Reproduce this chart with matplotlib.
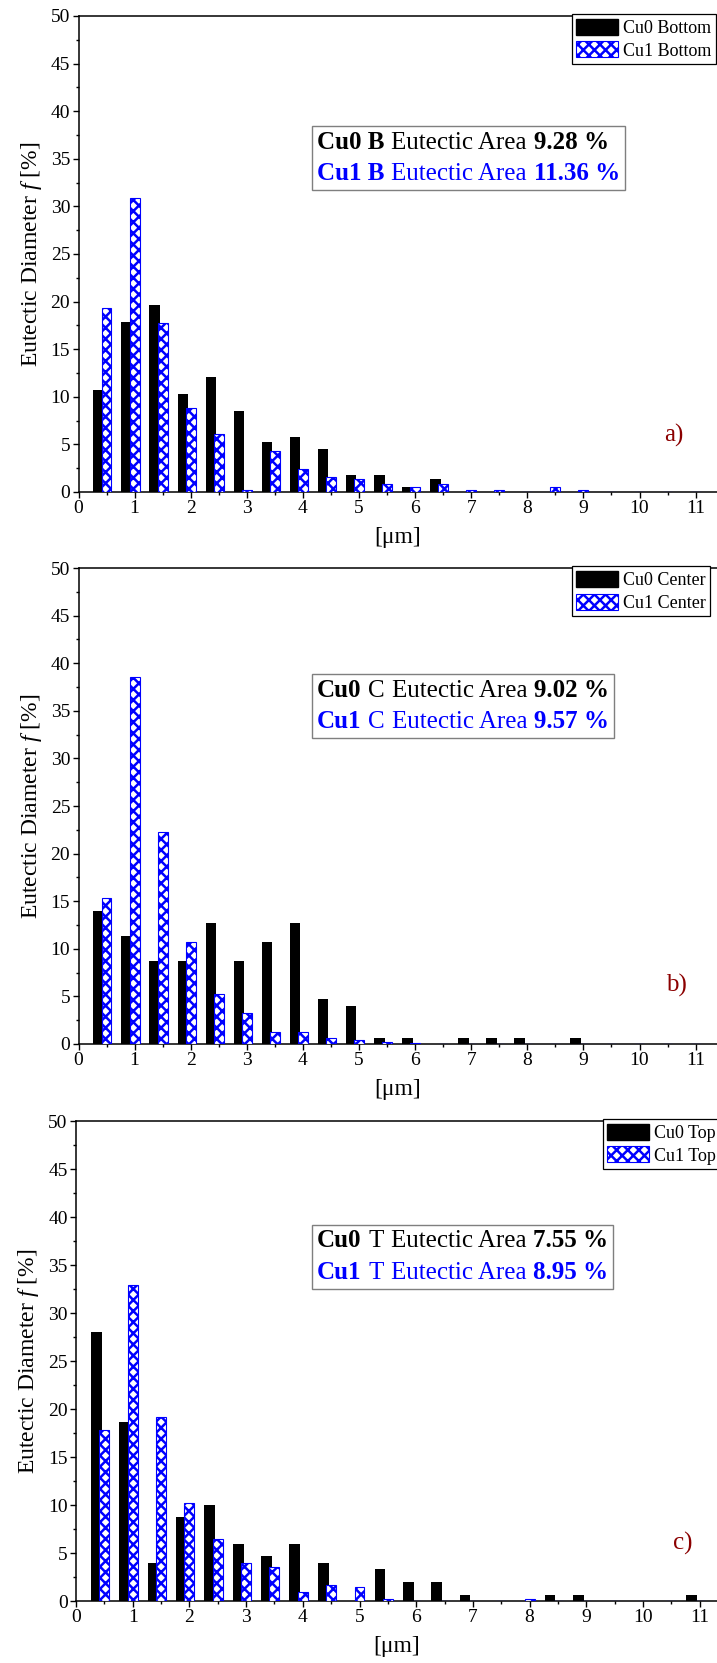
import matplotlib
matplotlib.use("Agg")
import matplotlib.pyplot as plt
from matplotlib.offsetbox import AnchoredOffsetbox, HPacker, VPacker, TextArea
from matplotlib.patches import Patch
from matplotlib.ticker import MultipleLocator

plt.rcParams["font.family"] = "Liberation Serif"
plt.rcParams["mathtext.fontset"] = "custom"
plt.rcParams["mathtext.rm"] = "Liberation Serif"
plt.rcParams["mathtext.it"] = "Liberation Serif:italic"
plt.rcParams["hatch.linewidth"] = 1.8

# diameter classes [um]
bins = [0.5, 1.0, 1.5, 2.0, 2.5, 3.0, 3.5, 4.0, 4.5, 5.0, 5.5,
        6.0, 6.5, 7.0, 7.5, 8.0, 8.5, 9.0, 9.5, 10.0, 10.5, 11.0]

cu0_bottom = [10.7, 17.85, 19.6, 10.3, 12.1, 8.5, 5.3, 5.8, 4.5, 1.8, 1.8,
              0.5, 1.4, 0, 0, 0, 0, 0, 0, 0, 0, 0]
cu1_bottom = [19.35, 30.9, 17.7, 8.85, 6.1, 0.2, 4.35, 2.4, 1.6, 1.35, 0.8,
              0.55, 0.8, 0.2, 0.2, 0, 0.55, 0.2, 0, 0, 0, 0]

cu0_center = [14.0, 11.3, 8.7, 8.7, 12.7, 8.7, 10.7, 12.7, 4.7, 4.0, 0.67,
              0.67, 0, 0.67, 0.67, 0.67, 0, 0.67, 0, 0, 0, 0]
cu1_center = [15.3, 38.5, 22.3, 10.7, 5.2, 3.3, 1.3, 1.3, 0.6, 0.45, 0.25,
              0.1, 0, 0, 0, 0, 0, 0, 0, 0, 0, 0]

cu0_top = [28.0, 18.6, 4.0, 8.7, 10.0, 5.95, 4.65, 5.95, 4.0, 0, 3.35,
           2.0, 2.0, 0.67, 0, 0, 0.67, 0.67, 0, 0, 0, 0.67]
cu1_top = [17.8, 32.9, 19.15, 10.2, 6.5, 3.95, 3.5, 0.9, 1.7, 1.45, 0.25,
           0, 0.05, 0, 0, 0.25, 0, 0.05, 0, 0, 0, 0]

panels = [
    ("Bottom", "B", True, cu0_bottom, cu1_bottom, 9.28, 11.36, "a)"),
    ("Center", "C", False, cu0_center, cu1_center, 9.02, 9.57, "b)"),
    ("Top", "T", False, cu0_top, cu1_top, 7.55, 8.95, "c)"),
]

BLUE = "#0000ff"
HATCH = "xxx"
FS_TICK = 14
FS_BOX = 18

W, H = 717, 1663
fig = plt.figure(figsize=(W / 100, H / 100), dpi=100, facecolor="white")

# axes rectangles in pixels: left, top, bottom, pixels per um
boxes = [(78.5, 16, 492, 56.1), (78.5, 568, 1044, 56.1), (76, 1121, 1601, 56.7)]
legend_left = [571.7, 571.6, 602.7]
legend_top = [14, 566.4, 1119]
areabox_top = [126, 674, 1224.6]
tag_pos = [(10.62, 5.9), (10.66, 6.2), (10.7, 6.0)]


def area_line(sample, tag, tag_bold, value, color):
    if tag_bold:
        parts = [TextArea(f"{sample} {tag}",
                          textprops=dict(color=color, weight="bold", size=FS_BOX))]
    else:
        parts = [TextArea(sample, textprops=dict(color=color, weight="bold", size=FS_BOX)),
                 TextArea(tag, textprops=dict(color=color, size=FS_BOX))]
    parts.append(TextArea("Eutectic Area", textprops=dict(color=color, size=FS_BOX)))
    parts.append(TextArea(f"{value:.2f} %", textprops=dict(color=color, weight="bold", size=FS_BOX)))
    return HPacker(children=parts, align="baseline", pad=0, sep=5)


for i, (pos, tag, tag_bold, cu0, cu1, area0, area1, letter) in enumerate(panels):
    left, top, bottom, unit = boxes[i]
    ax = fig.add_axes([left / W, 1 - bottom / H, (W - left) / W, (bottom - top) / H])
    xmax = (W - left) / unit

    ax.bar([b - 0.14 for b in bins], cu0, width=0.19, color="black", linewidth=0,
           label=f"Cu0 {pos}", zorder=2)
    ax.bar(bins, cu1, width=0.175, facecolor="white", edgecolor=BLUE, hatch=HATCH,
           linewidth=0.8, label=f"Cu1 {pos}", zorder=3)

    ax.set_xlim(0, xmax)
    ax.set_ylim(0, 50)
    ax.xaxis.set_major_locator(MultipleLocator(1))
    ax.xaxis.set_minor_locator(MultipleLocator(0.5))
    ax.yaxis.set_major_locator(MultipleLocator(5))
    ax.yaxis.set_minor_locator(MultipleLocator(2.5))
    ax.tick_params(which="major", direction="out", length=4, width=1.0,
                   labelsize=FS_TICK, pad=2)
    ax.tick_params(which="minor", direction="out", length=2, width=1.0)
    ax.tick_params(top=False, right=False)
    for side in ("left", "bottom", "top"):
        ax.spines[side].set_linewidth(1.1)
    ax.spines["right"].set_visible(False)

    ax.set_ylabel(r"Eutectic Diameter $\mathit{f}$ [%]", fontsize=17, labelpad=5)
    ax.set_xlabel("[\u03bcm]", fontsize=17, labelpad=7)

    handles = [Patch(facecolor="black", edgecolor="black", label=f"Cu0 {pos}"),
               Patch(facecolor="white", edgecolor=BLUE, hatch=HATCH, linewidth=0.8,
                     label=f"Cu1 {pos}")]
    leg = ax.legend(handles=handles, loc="upper left",
                    bbox_to_anchor=(legend_left[i] / W, 1 - legend_top[i] / H),
                    bbox_transform=fig.transFigure, fontsize=13, frameon=True,
                    fancybox=False, framealpha=1, edgecolor="black",
                    handlelength=2.3, handleheight=1.0, handletextpad=0.3,
                    labelspacing=0.25, borderpad=0.25, borderaxespad=0)
    leg.get_frame().set_linewidth(0.9)

    lines = VPacker(children=[area_line("Cu0", tag, tag_bold, area0, "black"),
                              area_line("Cu1", tag, tag_bold, area1, BLUE)],
                    align="left", pad=0, sep=6)
    ab = AnchoredOffsetbox(loc="upper left", child=lines, pad=0.35, borderpad=0,
                           frameon=True,
                           bbox_to_anchor=(312 / W, 1 - areabox_top[i] / H),
                           bbox_transform=fig.transFigure)
    ab.patch.set_edgecolor("#7f7f7f")
    ab.patch.set_linewidth(1.0)
    ab.patch.set_boxstyle("square", pad=0)
    ax.add_artist(ab)

    ax.text(tag_pos[i][0], tag_pos[i][1], letter, color="#8b0000", fontsize=18,
            ha="center", va="center")

fig.savefig("out.png", dpi=100, facecolor="white")
